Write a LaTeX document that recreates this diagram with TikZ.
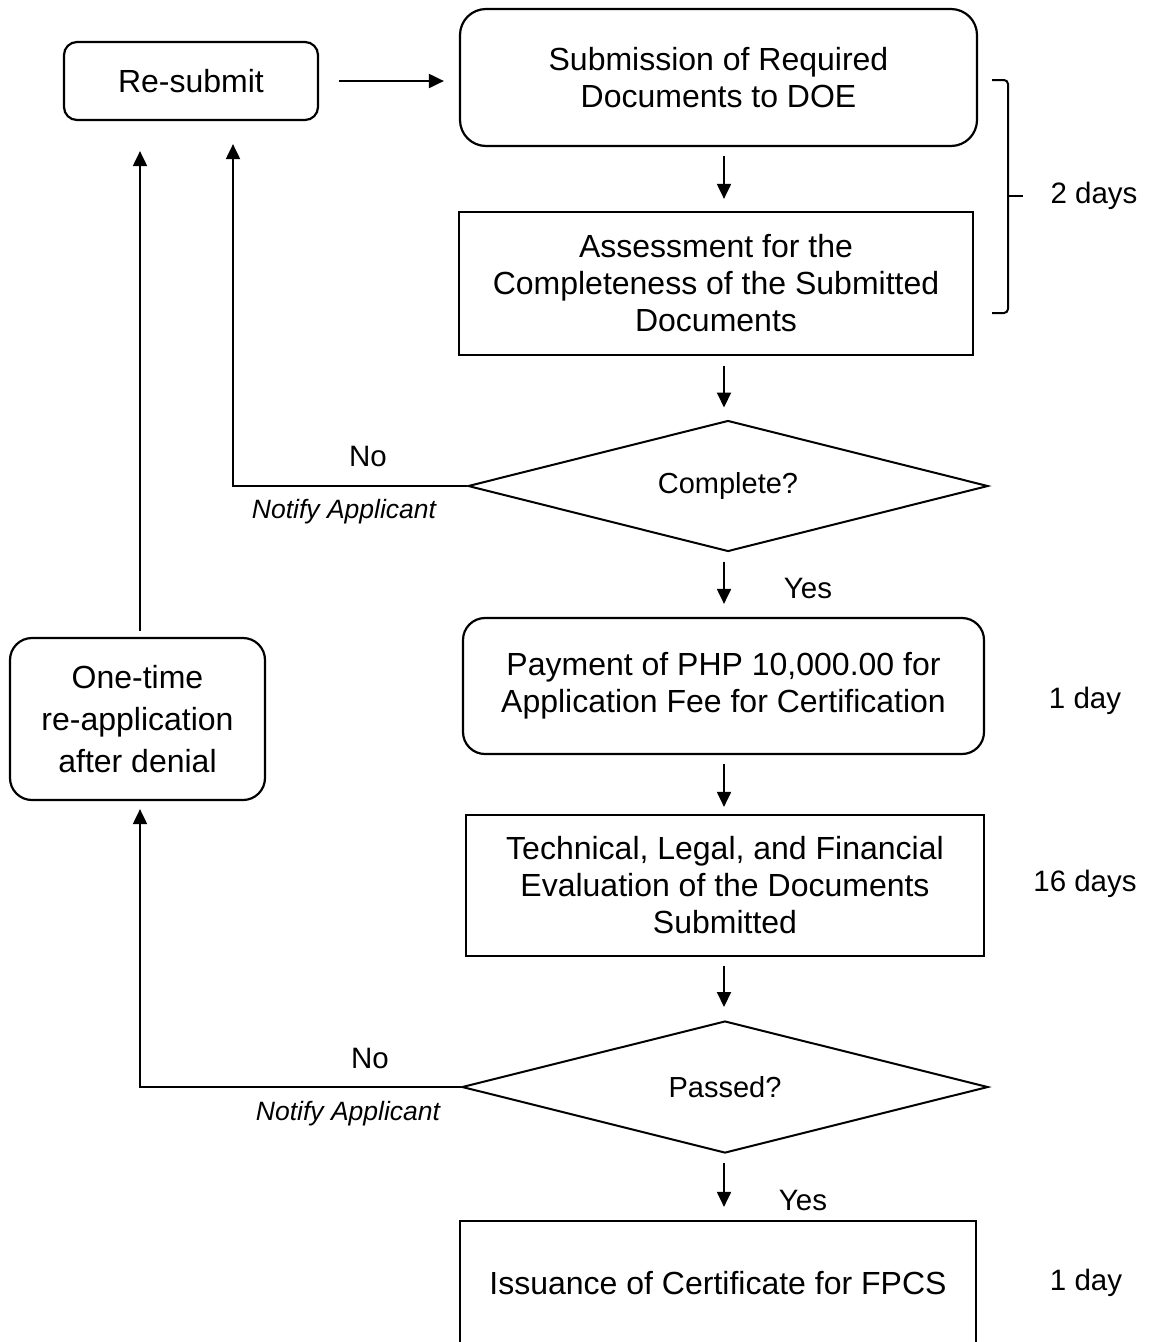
\documentclass[tikz,border=0pt]{standalone}
\usepackage{fontspec}
\setmainfont{Liberation Sans}
\usetikzlibrary{shapes.geometric,arrows.meta}
\begin{document}
\begin{tikzpicture}[x=1pt,y=-1pt,
  line width=2pt,
  main/.style={font=\fontsize{32}{37}\selectfont, align=center, draw, line width=2.2pt, inner sep=0pt},
  rbox/.style={main, rounded corners=22pt},
  sbox/.style={main},
  dec/.style={draw, diamond, line width=2pt, inner sep=0pt, aspect=4, font=\fontsize{29}{34}\selectfont},
  arr/.style={-{Triangle[length=15pt,width=14pt]}, line width=2pt},
  lab/.style={font=\fontsize{29.5}{34}\selectfont},
  note/.style={font=\fontsize{26.5}{30}\selectfont\itshape}
]
\fill[white] (0,0) rectangle (1150,1342);
\useasboundingbox (0,0) rectangle (1150,1342);

\node[rbox, rounded corners=13pt, minimum width=254, minimum height=78] (resub) at (191,81) {Re-submit};
\node[rbox, rounded corners=26pt, minimum width=517, minimum height=137] (subm) at (718.5,77.5) {Submission of Required\\Documents to DOE};
\node[sbox, minimum width=514, minimum height=143] (assess) at (716,283.5) {Assessment for the\\Completeness of the Submitted\\Documents};
\node[dec, minimum width=520, minimum height=131] (compl) at (728,486) {Complete?};
\node[rbox, minimum width=521, minimum height=136] (pay) at (723.5,686) {Payment of PHP 10,000.00 for\\Application Fee for Certification};
\node[sbox, minimum width=518, minimum height=141] (tech) at (725,885.5) {Technical, Legal, and Financial\\Evaluation of the Documents\\Submitted};
\node[dec, minimum width=526, minimum height=132] (pass) at (725,1087) {Passed?};
\node[sbox, minimum width=516, minimum height=124] (iss) at (718,1283) {Issuance of Certificate for FPCS};
\node[rbox, font=\fontsize{32}{42}\selectfont, minimum width=255, minimum height=162] (one) at (137.5,719) {One-time\\re-application\\after denial};

\coordinate (col) at (724,0);
\coordinate (nox) at (233,0);
\coordinate (lx) at (140,0);

\draw[arr, shorten <=20pt, shorten >=15pt] (resub.east) -- (resub.east -| subm.west);
\draw[arr, shorten <=9pt, shorten >=12pt] (col |- subm.south) -- (col |- assess.north);
\draw[arr, shorten <=10pt, shorten >=12pt] (col |- assess.south) -- (col |- compl.north);
\draw[arr, shorten <=9pt, shorten >=13pt] (col |- compl.south) -- (col |- pay.north);
\draw[arr, shorten <=9pt, shorten >=7pt] (col |- pay.south) -- (col |- tech.north);
\draw[arr, shorten <=9pt, shorten >=13pt] (col |- tech.south) -- (col |- pass.north);
\draw[arr, shorten <=9pt, shorten >=13pt] (col |- pass.south) -- (col |- iss.north);

\draw[arr, shorten >=23pt] (compl.west) -| (nox |- resub.south);
\draw[arr, shorten >=8pt] (pass.west) -| (lx |- one.south);
\draw[arr, shorten <=6pt, shorten >=30pt] (lx |- one.north) -- (lx |- resub.south);

\draw[line width=2pt, rounded corners=4pt] (992,80) -- (1008,80) -- (1008,313) -- (992,313);
\draw[line width=2pt] (1008,196) -- (1023,196);

\node[lab] (nol1) at (368,456) {No};
\node[note] (nt1) at (344,512) {Notify Applicant};
\node[lab] (yes1) at (808,588) {Yes};
\node[lab] (nol2) at (370,1058) {No};
\node[note] (nt2) at (348,1114) {Notify Applicant};
\node[lab] (yes2) at (803,1200) {Yes};
\node[lab] (d2) at (1094,196) {2 days};
\node[lab] (d1) at (1085,701) {1 day};
\node[lab] (d16) at (1085,884) {16 days};
\node[lab] (d1b) at (1086,1283) {1 day};
\end{tikzpicture}
\end{document}
